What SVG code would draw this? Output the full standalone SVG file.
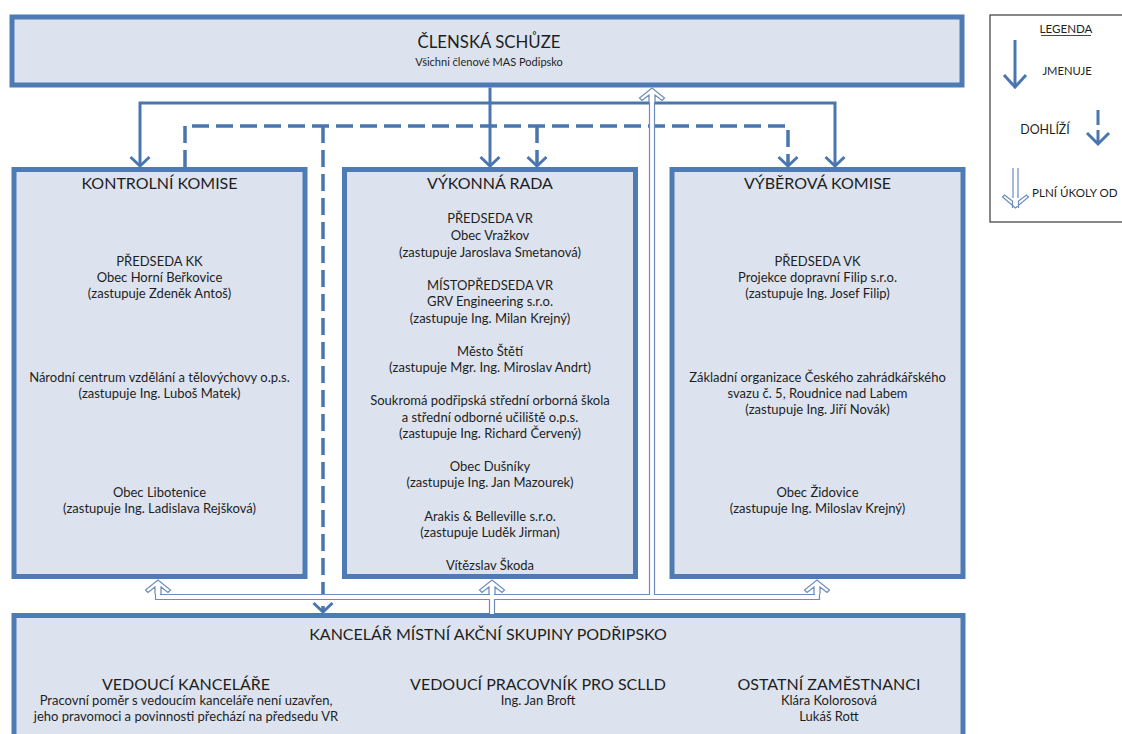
<svg xmlns="http://www.w3.org/2000/svg" width="1122" height="734" viewBox="0 0 1122 734">
<defs>
<style>
.box{fill:#dce3ef;stroke:#4f7bb5;stroke-width:5}
.t{font-family:Lato,"Noto Sans","DejaVu Sans",sans-serif;fill:#1e1e1e;text-anchor:middle}
.h{font-size:16px}
.b{font-size:13px}
.s{font-size:11.6px}
.con{fill:none;stroke:#4a76b0;stroke-width:3}
.dash{fill:none;stroke:#4a76b0;stroke-width:3.5;stroke-dasharray:17 7}
.pipeo{fill:none;stroke:#6b8cbd;stroke-width:6.2}
.pipei{fill:none;stroke:#ffffff;stroke-width:3.8}
.ha{fill:#ffffff;stroke:#6b8cbd;stroke-width:1.2;stroke-linejoin:miter}
</style>
<marker id="ah" markerUnits="userSpaceOnUse" markerWidth="24" markerHeight="24" viewBox="-12 -12 24 24" refX="0" refY="0" orient="auto">
<path d="M-9,-9.5 L0,0 L-9,9.5" fill="none" stroke="#4a76b0" stroke-width="3"/>
</marker>
<path id="hollow" d="M3,14 V7 L10,12.5 L12.5,10 L0,0 L-12.5,10 L-10,12.5 L-3,7 V14"/>
</defs>

<g id="clenska-schuze">
<rect class="box" x="12" y="17" width="950" height="68"/>
<text class="t" style="font-size:16.8px" x="489" y="48">ČLENSKÁ SCHŮZE</text>
<text class="t" style="font-size:11px" x="489" y="66">Všichni členové MAS Podipsko</text>
</g>

<g id="kontrolni-komise">
<rect class="box" x="14" y="169.5" width="291" height="407"/>
<text class="t h" x="159.5" y="189">KONTROLNÍ KOMISE</text>
<text class="t b" x="159.5" y="266">PŘEDSEDA KK</text>
<text class="t b" x="159.5" y="282">Obec Horní Beřkovice</text>
<text class="t b" x="159.5" y="298">(zastupuje Zdeněk Antoš)</text>
<text class="t b" x="159.5" y="382">Národní centrum vzdělání a tělovýchovy o.p.s.</text>
<text class="t b" x="159.5" y="398">(zastupuje Ing. Luboš Matek)</text>
<text class="t b" x="159.5" y="497">Obec Libotenice</text>
<text class="t b" x="159.5" y="513">(zastupuje Ing. Ladislava Rejšková)</text>
</g>

<g id="vykonna-rada">
<rect class="box" x="344.5" y="169.5" width="291" height="407"/>
<text class="t h" x="490" y="189">VÝKONNÁ RADA</text>
<text class="t b" x="490" y="223">PŘEDSEDA VR</text>
<text class="t b" x="490" y="240">Obec Vražkov</text>
<text class="t b" x="490" y="257">(zastupuje Jaroslava Smetanová)</text>
<text class="t b" x="490" y="290">MÍSTOPŘEDSEDA VR</text>
<text class="t b" x="490" y="306">GRV Engineering s.r.o.</text>
<text class="t b" x="490" y="323">(zastupuje Ing. Milan Krejný)</text>
<text class="t b" x="490" y="356">Město Štětí</text>
<text class="t b" x="490" y="372">(zastupuje Mgr. Ing. Miroslav Andrt)</text>
<text class="t b" x="490" y="405">Soukromá podřipská střední orborná škola</text>
<text class="t b" x="490" y="422">a střední odborné učiliště o.p.s.</text>
<text class="t b" x="490" y="438">(zastupuje Ing. Richard Červený)</text>
<text class="t b" x="490" y="471">Obec Dušníky</text>
<text class="t b" x="490" y="487">(zastupuje Ing. Jan Mazourek)</text>
<text class="t b" x="490" y="521">Arakis &amp; Belleville s.r.o.</text>
<text class="t b" x="490" y="537">(zastupuje Luděk Jirman)</text>
<text class="t b" x="490" y="570">Vítězslav Škoda</text>
</g>

<g id="vyberova-komise">
<rect class="box" x="672" y="169.5" width="291" height="407"/>
<text class="t h" x="817.5" y="189">VÝBĚROVÁ KOMISE</text>
<text class="t b" x="817.5" y="266">PŘEDSEDA VK</text>
<text class="t b" x="817.5" y="282">Projekce dopravní Filip s.r.o.</text>
<text class="t b" x="817.5" y="298">(zastupuje Ing. Josef Filip)</text>
<text class="t b" x="817.5" y="382">Základní organizace Českého zahrádkářského</text>
<text class="t b" x="817.5" y="398">svazu č. 5, Roudnice nad Labem</text>
<text class="t b" x="817.5" y="414">(zastupuje Ing. Jiří Novák)</text>
<text class="t b" x="817.5" y="497">Obec Židovice</text>
<text class="t b" x="817.5" y="513">(zastupuje Ing. Miloslav Krejný)</text>
</g>

<g id="kancelar">
<rect class="box" x="14" y="615.5" width="949" height="140"/>
<text class="t h" x="488" y="640">KANCELÁŘ MÍSTNÍ AKČNÍ SKUPINY PODŘIPSKO</text>
<text class="t h" x="186" y="690">VEDOUCÍ KANCELÁŘE</text>
<text class="t b" x="186" y="705">Pracovní poměr s vedoucím kanceláře není uzavřen,</text>
<text class="t b" x="186" y="721">jeho pravomoci a povinnosti přechází na předsedu VR</text>
<text class="t h" x="538" y="690">VEDOUCÍ PRACOVNÍK PRO SCLLD</text>
<text class="t b" x="538" y="705">Ing. Jan Broft</text>
<text class="t h" x="829" y="690">OSTATNÍ ZAMĚSTNANCI</text>
<text class="t b" x="829" y="705">Klára Kolorosová</text>
<text class="t b" x="829" y="721">Lukáš Rott</text>
</g>

<g id="connectors">
<path class="con" d="M490,87.5 V166" marker-end="url(#ah)"/>
<path class="con" d="M490,103 H140 V166" marker-end="url(#ah)"/>
<path class="con" d="M490,103 H835 V166" marker-end="url(#ah)"/>
<path class="dash" d="M185,167 V126 H788 V166" marker-end="url(#ah)"/>
<path class="dash" d="M537,126 V166" marker-end="url(#ah)"/>
<path class="dash" d="M323,126 V612" marker-end="url(#ah)"/>
<path class="pipeo" d="M158,588 V597 H817 V588 M652,597 V98 M492,588 V613.5"/>
<path class="pipei" d="M158,588 V597 H817 V588 M652,597 V98 M492,588 V614"/>
<use href="#hollow" class="ha" transform="translate(158,580)"/>
<use href="#hollow" class="ha" transform="translate(492,580)"/>
<use href="#hollow" class="ha" transform="translate(817,580)"/>
<use href="#hollow" class="ha" transform="translate(652,88)"/>
</g>

<g id="legenda">
<rect x="990" y="15" width="150" height="207" fill="#ffffff" stroke="#3a3a3a" stroke-width="1.2"/>
<text class="t s" x="1066" y="33">LEGENDA</text>
<line x1="1041" y1="35.5" x2="1091" y2="35.5" stroke="#333" stroke-width="0.9"/>
<path d="M1015,40 V87" fill="none" stroke="#4a76b0" stroke-width="3"/>
<path d="M1004,75 L1015,87 L1026,75" fill="none" stroke="#4a76b0" stroke-width="3"/>
<text class="t" style="font-size:11.2px" x="1067" y="75">JMENUJE</text>
<text class="t" style="font-size:12.4px" x="1045" y="134">DOHLÍŽÍ</text>
<path d="M1098,110 V144" fill="none" stroke="#4a76b0" stroke-width="3" stroke-dasharray="15 5"/>
<path d="M1087,133 L1098,144 L1109,133" fill="none" stroke="#4a76b0" stroke-width="3"/>
<path class="pipeo" d="M1015.5,168 V198"/>
<path class="pipei" d="M1015.5,167.4 V198"/>
<path class="ha" d="M3,0 V7 L11,13 L13,11 L0,0 L-13,11 L-11,13 L-3,7 V0" transform="translate(1015.5,208) rotate(180)"/>
<text class="t" style="font-size:11.6px;text-anchor:start" x="1032" y="197">PLNÍ ÚKOLY OD</text>
</g>
</svg>
